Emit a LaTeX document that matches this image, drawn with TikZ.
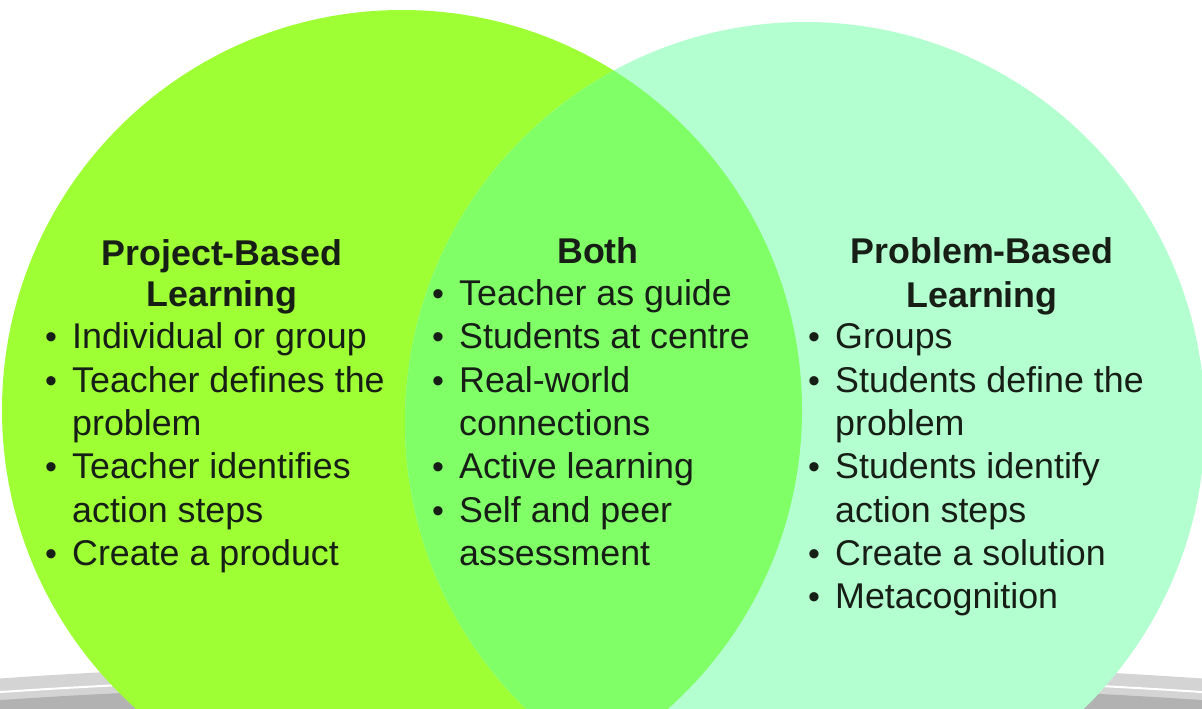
\documentclass[tikz,border=0pt]{standalone}
\usepackage{fontspec}
\setmainfont{Liberation Sans}
\definecolor{leftc}{RGB}{158,255,52}
\definecolor{lensc}{RGB}{128,255,102}
\definecolor{rightc}{RGB}{180,255,208}
\definecolor{rimc}{RGB}{212,212,212}
\definecolor{basec}{RGB}{178,178,178}
\definecolor{txtc}{RGB}{22,30,22}
\begin{document}
\begin{tikzpicture}[x=1pt,y=-1pt,
  txt/.style={anchor=base west, inner sep=0pt, text=txtc, font=\fontsize{35.8}{43}\selectfont},
  ttl/.style={anchor=base, inner sep=0pt, text=txtc, font=\fontsize{35.8}{43}\selectfont\bfseries},
  bul/.style={anchor=base, inner sep=0pt, text=txtc, font=\fontsize{34}{36}\selectfont}]
\useasboundingbox (0,0) rectangle (1202,709);
\clip (0,0) rectangle (1202,709);
\fill[white] (0,0) rectangle (1202,709);
% platform
\fill[rimc] (601,752) ellipse [x radius=1000pt, y radius=92pt];
\draw[white, line width=2pt] (601,764) ellipse [x radius=1000pt, y radius=90pt];
\fill[basec] (601,772) ellipse [x radius=1000pt, y radius=90pt];
% circles
\fill[leftc] (402,410) circle (400pt);
\fill[rightc] (805,422) circle (400pt);
\begin{scope}
  \clip (402,410) circle (400pt);
  \fill[lensc] (805,422) circle (400pt);
\end{scope}
% left column
\node[ttl] (lt1) at (222,265) {Project-Based};
\node[ttl] (lt2) at (222,306) {Learning};
\foreach \y/\t/\b [count=\i] in {348/Individual or group/1, 392/Teacher defines the/1, 435/problem/0, 478/Teacher identifies/1, 522/action steps/0, 565/Create a product/1}{
  \node[txt] (l\i) at (72,\y) {\t};
  \ifnum\b=1 \node[bul] (lb\i) at (51,\y) {•};\fi
}
% both column
\node[ttl] (bt) at (598,263) {Both};
\foreach \y/\t/\b [count=\i] in {305/Teacher as guide/1, 348/Students at centre/1, 392/Real-world/1, 435/connections/0, 478/Active learning/1, 522/Self and peer/1, 565/assessment/0}{
  \node[txt] (b\i) at (459,\y) {\t};
  \ifnum\b=1 \node[bul] (bb\i) at (438,\y) {•};\fi
}
% right column
\node[ttl] (rt1) at (982,263) {Problem-Based};
\node[ttl] (rt2) at (982,307) {Learning};
\foreach \y/\t/\b [count=\i] in {348/Groups/1, 392/Students define the/1, 435/problem/0, 478/Students identify/1, 522/action steps/0, 565/Create a solution/1, 608/Metacognition/1}{
  \node[txt] (r\i) at (835,\y) {\t};
  \ifnum\b=1 \node[bul] (rb\i) at (814,\y) {•};\fi
}
\end{tikzpicture}
\end{document}
